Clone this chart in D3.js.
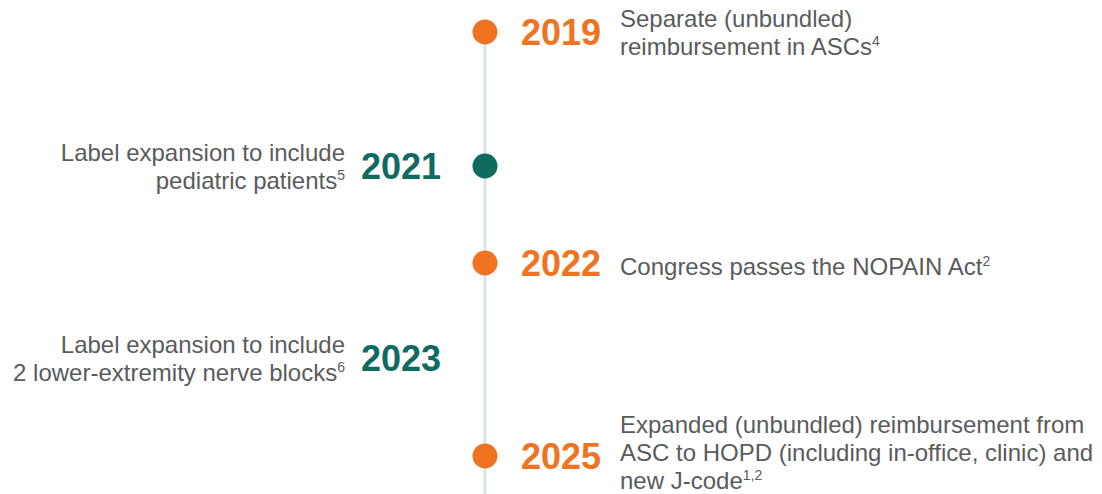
<!DOCTYPE html>
<html>
<head>
<meta charset="utf-8">
<script src="https://cdn.jsdelivr.net/npm/d3@7"></script>
<style>
  body { margin: 0; background: #fff; }
  svg { display: block; }
  .desc { font-family: "Liberation Sans", Arial, sans-serif; font-size: 24px; fill: #5a5b5c; }
  .year { font-family: "Liberation Sans", Arial, sans-serif; font-size: 36px; font-weight: bold; }
</style>
</head>
<body>
<div id="chart"></div>
<script>
// timeline data
const years = ["2019", "2021", "2022", "2023", "2025"];
const sides = ["right", "left", "right", "left", "right"];
const kinds = ["reimb", "label", "reimb", "label", "reimb"];
const showDot = [true, true, true, false, true];
const descLines = [
  ["Separate (unbundled)", "reimbursement in ASCs"],
  ["Label expansion to include", "pediatric patients"],
  ["Congress passes the NOPAIN Act"],
  ["Label expansion to include", "2 lower-extremity nerve blocks"],
  ["Expanded (unbundled) reimbursement from", "ASC to HOPD (including in-office, clinic) and", "new J-code"]
];
const refs = ["4", "5", "2", "6", "1,2"];

const width = 1102,
  height = 494,
  axisX = 485,
  radius = 12.5,
  lineH = 28;

const color = d3.scaleOrdinal()
  .domain(["reimb", "label"])
  .range(["#f07321", "#0f6b60"]);

// row centres along the spine
const y = d3.scaleOrdinal()
  .domain(years)
  .range([32, 166, 263, 358, 456]);

const events = years.map((yr, i) => ({
  year: yr, side: sides[i], kind: kinds[i], dot: showDot[i],
  lines: descLines[i], ref: refs[i]
}));

const svg = d3.select("#chart")
  .append("svg")
  .attr("width", width)
  .attr("height", height);

// vertical spine
svg.append("line")
  .attr("x1", axisX).attr("x2", axisX)
  .attr("y1", y(years[0])).attr("y2", height)
  .attr("stroke", "#d4e7ee")
  .attr("stroke-width", 3);

const g = svg.selectAll("g.event")
  .data(events)
  .join("g")
  .attr("class", "event")
  .attr("transform", d => `translate(0, ${y(d.year)})`);

g.filter(d => d.dot)
  .append("circle")
  .attr("cx", axisX)
  .attr("r", radius)
  .attr("fill", d => color(d.kind));

// year labels
g.append("text")
  .attr("class", "year")
  .attr("x", d => d.side === "right" ? 521 : 441)
  .attr("y", 13)
  .attr("text-anchor", d => d.side === "right" ? "start" : "end")
  .attr("fill", d => color(d.kind))
  .text(d => d.year);

// descriptions
const desc = g.append("text")
  .attr("class", "desc")
  .attr("text-anchor", d => d.side === "right" ? "start" : "end")
  .attr("transform", d => {
    const n = d.lines.length;
    const top = -((n - 1) * lineH) / 2 + 12 - 3.5 * (n - 1);
    return `translate(${d.side === "right" ? 620 : 345}, ${top})`;
  });

desc.each(function(d) {
  const t = d3.select(this);
  d.lines.forEach((ln, i) => {
    t.append("tspan")
      .attr("x", 0)
      .attr("y", i * lineH)
      .text(ln);
    if (i === d.lines.length - 1) {
      t.append("tspan")
        .attr("dy", -9)
        .attr("font-size", 14)
        .text(d.ref);
    }
  });
});
</script>
</body>
</html>
